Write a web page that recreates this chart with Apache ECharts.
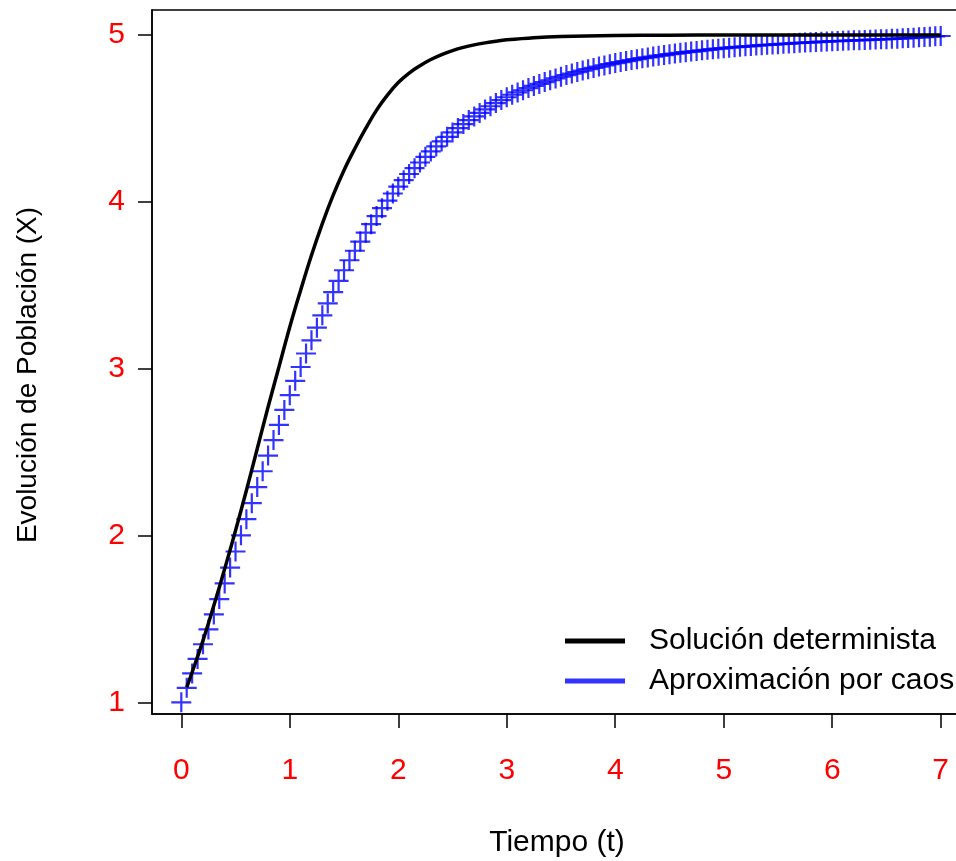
<!DOCTYPE html>
<html>
<head>
<meta charset="utf-8">
<script src="https://cdn.jsdelivr.net/npm/echarts@6/dist/echarts.min.js"></script>
<style>
html, body { margin: 0; padding: 0; background: #fff; }
#chart { width: 956px; height: 861px; }
</style>
</head>
<body>
<div id="chart"></div>
<script>
// tick labels
var xTicks = [0, 1, 2, 3, 4, 5, 6, 7];
var yTicks = [1, 2, 3, 4, 5];

// deterministic solution (black line)
var tDet = [0.05, 0.1, 0.2, 0.3, 0.4, 0.5, 0.6, 0.7, 0.8, 0.9, 1.0, 1.1, 1.2, 1.3, 1.4, 1.5,
  1.6, 1.7, 1.8, 1.9, 2.0, 2.1, 2.2, 2.3, 2.4, 2.5, 2.6, 2.7, 2.8, 2.9, 3.0, 3.25, 3.5, 4.0, 4.5, 5.0, 6.0, 7.0];
var xDet = [1.09, 1.18, 1.37, 1.58, 1.80, 2.03, 2.27, 2.52, 2.77, 3.01, 3.25, 3.47, 3.68, 3.87, 4.04, 4.19,
  4.32, 4.44, 4.55, 4.64, 4.715, 4.772, 4.816, 4.853, 4.883, 4.907, 4.926, 4.941, 4.953, 4.963, 4.971, 4.984, 4.991, 4.997, 4.999, 5.0, 5.0, 5.0];

// chaos approximation (blue crosses)
var tCaos = [0, 0.05, 0.1, 0.15, 0.2, 0.25, 0.3, 0.35, 0.4, 0.45, 0.5, 0.55, 0.6, 0.65, 0.7, 0.75, 0.8, 0.85, 0.9, 0.95,
  1, 1.05, 1.1, 1.15, 1.2, 1.25, 1.3, 1.35, 1.4, 1.45, 1.5, 1.55, 1.6, 1.65, 1.7, 1.75, 1.8, 1.85, 1.9, 1.95,
  2, 2.05, 2.1, 2.15, 2.2, 2.25, 2.3, 2.35, 2.4, 2.45, 2.5, 2.55, 2.6, 2.65, 2.7, 2.75, 2.8, 2.85, 2.9, 2.95,
  3, 3.05, 3.1, 3.15, 3.2, 3.25, 3.3, 3.35, 3.4, 3.45, 3.5, 3.55, 3.6, 3.65, 3.7, 3.75, 3.8, 3.85, 3.9, 3.95,
  4, 4.05, 4.1, 4.15, 4.2, 4.25, 4.3, 4.35, 4.4, 4.45, 4.5, 4.55, 4.6, 4.65, 4.7, 4.75, 4.8, 4.85, 4.9, 4.95,
  5, 5.05, 5.1, 5.15, 5.2, 5.25, 5.3, 5.35, 5.4, 5.45, 5.5, 5.55, 5.6, 5.65, 5.7, 5.75, 5.8, 5.85, 5.9, 5.95,
  6, 6.05, 6.1, 6.15, 6.2, 6.25, 6.3, 6.35, 6.4, 6.45, 6.5, 6.55, 6.6, 6.65, 6.7, 6.75, 6.8, 6.85, 6.9, 6.95, 7];
var xCaos = [1.000, 1.087, 1.173, 1.260, 1.348, 1.437, 1.527, 1.619, 1.713, 1.808, 1.904, 2.001, 2.098, 2.194, 2.290, 2.385, 2.479, 2.572, 2.663, 2.753,
  2.841, 2.927, 3.010, 3.091, 3.170, 3.246, 3.320, 3.391, 3.459, 3.526, 3.590, 3.650, 3.707, 3.762, 3.815, 3.866, 3.915, 3.962, 4.007, 4.050,
  4.091, 4.130, 4.167, 4.202, 4.236, 4.270, 4.302, 4.332, 4.362, 4.390, 4.416, 4.442, 4.466, 4.490, 4.512, 4.533, 4.554, 4.573, 4.592, 4.610,
  4.627, 4.642, 4.656, 4.669, 4.682, 4.695, 4.707, 4.718, 4.729, 4.740, 4.750, 4.760, 4.769, 4.778, 4.787, 4.795, 4.803, 4.811, 4.818, 4.825,
  4.832, 4.838, 4.844, 4.850, 4.855, 4.861, 4.866, 4.871, 4.876, 4.880, 4.885, 4.889, 4.893, 4.897, 4.901, 4.904, 4.908, 4.911, 4.915, 4.918,
  4.921, 4.924, 4.927, 4.929, 4.932, 4.934, 4.937, 4.939, 4.941, 4.943, 4.945, 4.947, 4.949, 4.951, 4.953, 4.955, 4.956, 4.958, 4.960, 4.961,
  4.963, 4.964, 4.965, 4.967, 4.968, 4.969, 4.970, 4.972, 4.973, 4.974, 4.975, 4.977, 4.978, 4.980, 4.982, 4.984, 4.986, 4.988, 4.990, 4.992, 4.994];

var fontFam = '"Liberation Sans", Arial, Helvetica, sans-serif';

var detData = tDet.map(function (t, i) { return [t, xDet[i]]; });
var caosData = tCaos.map(function (t, i) { return [t, xCaos[i]]; });

var chart = echarts.init(document.getElementById('chart'));
chart.setOption({
  animation: false,
  backgroundColor: '#fff',
  textStyle: { fontFamily: fontFam },
  grid: {
    left: 152,
    top: 10,
    right: -14,
    bottom: 147,
    show: true,
    borderColor: '#000',
    borderWidth: 1.5,
    outerBoundsMode: 'none'
  },
  legend: {
    orient: 'vertical',
    left: 560,
    top: 621,
    itemWidth: 60,
    itemHeight: 5,
    itemGap: 10,
    icon: 'rect',
    selectedMode: false,
    data: [
      { name: 'Solución determinista', itemStyle: { color: '#000' } },
      { name: 'Aproximación por caos', itemStyle: { color: '#0000ff', borderWidth: 0 } }
    ],
    textStyle: {
      fontFamily: fontFam,
      fontSize: 30,
      color: '#000',
      lineHeight: 30,
      padding: [0, 0, 0, 19]
    }
  },
  xAxis: {
    type: 'value',
    min: -0.27,
    max: 7.27,
    name: 'Tiempo (t)',
    nameLocation: 'middle',
    nameGap: 114,
    nameTextStyle: { fontFamily: fontFam, fontSize: 30, color: '#000', padding: [0, 8, 0, 0] },
    axisLine: { show: true, lineStyle: { color: '#000', width: 1.5 } },
    axisTick: { show: true, customValues: xTicks, length: 14, lineStyle: { color: '#000', width: 1.5 } },
    axisLabel: { customValues: xTicks, color: '#ff0000', fontSize: 30, margin: 42, fontFamily: fontFam },
    splitLine: { show: false }
  },
  yAxis: {
    type: 'value',
    min: 0.93,
    max: 5.15,
    name: 'Evolución de Población (X)',
    nameLocation: 'middle',
    nameGap: 110,
    nameRotate: 90,
    nameTextStyle: { fontFamily: fontFam, fontSize: 28, color: '#000', padding: [0, 26, 0, 0] },
    axisLine: { show: true, onZero: false, lineStyle: { color: '#000', width: 1.5 } },
    axisTick: { show: true, customValues: yTicks, length: 14, lineStyle: { color: '#000', width: 1.5 } },
    axisLabel: { customValues: yTicks, color: '#ff0000', fontSize: 30, margin: 27, fontFamily: fontFam },
    splitLine: { show: false }
  },
  series: [
    {
      name: 'Aproximación por caos',
      type: 'scatter',
      data: caosData,
      symbol: 'path://M10,0L10,20M0,10L20,10',
      symbolSize: 20,
      itemStyle: { color: '#0000ff', borderColor: '#0000ff', borderWidth: 2.2 },
      silent: true,
      z: 2
    },
    {
      name: 'Solución determinista',
      type: 'line',
      data: detData,
      smooth: 0.4,
      showSymbol: false,
      lineStyle: { color: '#000', width: 3.5 },
      itemStyle: { color: '#000' },
      silent: true,
      z: 3
    }
  ]
});
</script>
</body>
</html>
